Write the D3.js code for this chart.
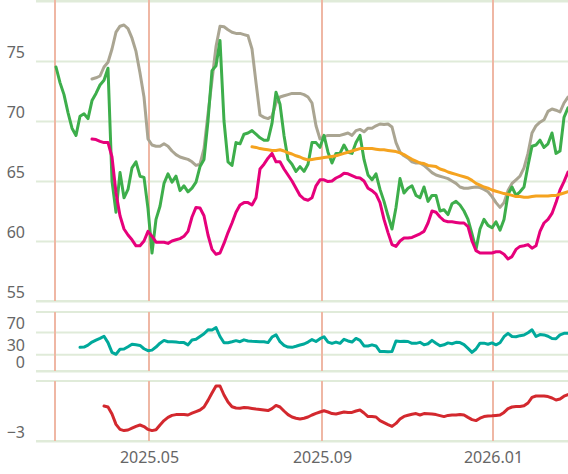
<!DOCTYPE html>
<html><head><meta charset="utf-8">
<script src="https://cdn.jsdelivr.net/npm/d3@7"></script>
<style>html,body{margin:0;padding:0;background:#fff;} svg{display:block;font-family:"Noto Sans",sans-serif;}</style>
</head><body><svg id="c" width="568" height="474"></svg>
<script>
// ---- data (x = trading-day index, one value every 2 days) ----
const priceStart = 0;
const price = [74.5,73.2,72.2,70.7,69.4,68.8,70.4,70.6,70.2,71.7,72.3,73.0,73.4,74.4,65.0,62.4,65.7,63.6,64.3,66.1,
66.6,65.4,65.3,62.7,59.0,61.8,62.9,64.8,65.6,64.9,65.4,64.2,64.6,64.1,64.4,64.9,66.2,66.8,70.0,74.2,
74.6,76.7,70.0,66.6,66.3,68.2,68.1,68.9,69.0,69.2,68.9,68.6,68.4,68.4,69.8,72.4,71.4,68.8,66.8,66.4,
65.8,66.2,65.8,66.4,68.2,68.2,67.8,68.8,67.4,66.5,67.3,67.3,68.0,67.4,67.3,68.2,68.8,66.8,65.5,65.1,
65.6,64.3,63.3,62.1,61.0,62.8,65.2,64.0,64.4,64.6,63.8,63.6,64.5,63.3,63.8,63.8,62.5,62.6,62.2,63.1,
63.3,63.0,62.5,61.8,60.6,59.3,61.0,61.8,61.3,61.1,61.6,60.9,61.8,63.9,64.5,63.8,64.1,64.5,66.3,67.9,
68.0,68.4,67.8,68.1,69.0,67.3,67.5,70.3,71.1];

const upperStart = 18;
const upper = [73.5,73.6,73.75,74.5,74.9,76.0,77.4,77.9,78.0,77.7,
76.9,75.8,74.0,72.0,68.5,68.0,67.9,67.9,68.1,67.9,
67.5,67.2,67.0,66.9,66.8,66.6,66.3,66.4,67.7,70.6,
73.4,76.2,77.9,77.85,77.6,77.4,77.3,77.3,77.2,77.1,
76.0,73.2,70.5,70.3,70.2,70.4,71.5,72.0,72.1,72.2,
72.3,72.3,72.3,72.2,72.0,71.5,69.6,68.5,68.7,68.8,
68.8,68.8,68.8,68.9,69.0,68.8,69.2,69.3,69.1,69.4,
69.4,69.6,69.75,69.7,69.75,69.5,68.2,67.4,67.1,66.9,
66.6,66.5,66.5,66.3,66.0,65.7,65.5,65.4,65.3,65.2,
65.0,64.8,64.5,64.4,64.4,64.45,64.5,64.45,64.3,64.1,
63.7,63.2,62.8,63.2,64.2,64.8,65.1,65.4,66.1,67.3,
69.0,69.6,69.9,70.1,70.8,71.0,70.9,70.75,71.5,72.0];

const lowerStart = 18;
const lower = [68.5,68.45,68.3,68.2,68.2,67.0,64.0,62.1,61.0,60.5,
60.1,59.6,59.6,60.0,60.8,60.4,59.9,59.9,59.9,59.8,
60.0,60.1,60.2,60.4,60.8,62.0,62.8,62.75,62.1,60.5,
59.3,58.9,59.0,59.8,60.7,61.5,62.4,63.0,63.2,63.2,
63.0,63.6,66.0,66.4,66.9,67.3,66.6,66.6,66.0,65.5,
65.0,64.4,63.8,63.5,63.4,63.6,64.6,65.1,65.1,64.95,
65.0,65.25,65.4,65.65,65.6,65.45,65.3,65.25,65.0,64.4,
64.2,63.9,63.2,61.8,60.7,59.7,59.55,60.0,60.25,60.25,
60.3,60.45,60.6,60.8,61.5,62.5,62.4,62.0,61.7,61.6,
61.6,61.55,61.5,61.5,61.2,60.0,59.2,59.0,59.0,59.0,
59.0,59.1,59.1,58.9,58.5,58.7,59.3,59.55,59.6,59.7,
59.4,59.6,60.8,61.5,61.8,62.3,63.2,64.25,64.95,65.75];

const maStart = 98;
const ma = [67.85,67.8,67.7,67.65,67.6,67.55,67.55,67.6,67.5,67.35,
67.25,67.1,67.0,66.85,66.75,66.8,66.85,66.9,66.95,67.0,
67.05,67.1,67.2,67.3,67.4,67.5,67.6,67.7,67.7,67.7,
67.7,67.65,67.6,67.6,67.55,67.5,67.45,67.35,67.2,67.0,
66.8,66.65,66.5,66.45,66.3,66.25,66.2,66.0,65.9,65.75,
65.65,65.55,65.45,65.35,65.25,65.05,64.8,64.65,64.5,64.4,
64.25,64.15,64.05,63.95,63.9,63.8,63.7,63.7,63.65,63.65,
63.7,63.75,63.75,63.75,63.75,63.8,63.8,63.9,64.0,64.1];

const oscStart = 12;
const osc = [42.5,43.0,46.5,52,55.5,58.7,62.5,51,33.5,30,
39,39.5,43.5,48,47,46,40,36.5,37.5,43,
50,55,52.6,52.6,52,51,51,47,55.7,57,
62,67,74,73.8,78,62,50.8,50.8,52.5,54.5,
52.6,56,54,53.3,53,52.6,52.6,51,61,65,
52.6,46,43,42.5,44.5,46.7,48.5,52,56.5,53,
58,61.5,52,49.5,52,49.7,57,54,52,58.5,
55,45,45,47,45,35,35,34.6,35,54,
53,53.5,53,49.7,49.7,51.5,47,49,55,50,
45.5,47,50.5,49,51.5,51,47.5,40.7,33.5,39.5,
50,50,48,50.5,47,50.8,61.6,67.7,62,61.5,
63.5,64.6,68.8,74,62,65.5,64.8,62.5,58.5,58,
65,67.7,67.7];

const macdStart = 24;
const macd = [-1.25,-1.3,-1.65,-2.17,-2.42,-2.48,-2.45,-2.36,-2.27,-2.2,
-2.28,-2.42,-2.48,-2.44,-2.2,-1.98,-1.82,-1.72,-1.68,-1.67,
-1.67,-1.7,-1.61,-1.53,-1.45,-1.3,-0.97,-0.6,-0.25,-0.25,
-0.7,-1.05,-1.29,-1.35,-1.36,-1.33,-1.34,-1.37,-1.4,-1.42,
-1.45,-1.48,-1.38,-1.22,-1.3,-1.5,-1.68,-1.8,-1.86,-1.9,
-1.86,-1.8,-1.7,-1.62,-1.55,-1.49,-1.55,-1.63,-1.65,-1.6,
-1.55,-1.58,-1.57,-1.5,-1.45,-1.6,-1.78,-1.78,-1.8,-1.98,
-2.08,-2.18,-2.27,-2.12,-1.9,-1.77,-1.71,-1.66,-1.63,-1.7,
-1.63,-1.64,-1.65,-1.68,-1.73,-1.78,-1.72,-1.7,-1.7,-1.67,
-1.7,-1.82,-1.93,-1.98,-1.86,-1.78,-1.75,-1.74,-1.72,-1.7,
-1.57,-1.38,-1.3,-1.28,-1.27,-1.24,-1.1,-0.82,-0.75,-0.75,
-0.75,-0.78,-0.85,-0.95,-0.9,-0.76,-0.68];

const splitDays = [-0.5, 46.5, 133, 218.5];
const tickDays = [46.5, 133, 218.5];
const tickLabels = ["2025.05", "2025.09", "2026.01"];
const mainTicks = [55, 60, 65, 70, 75, 80];
const oscTicks = [0, 30, 70];
const macdTicks = [-3];

// ---- drawing ----
const W = 568, gridLeft = 36;
const svg = d3.select("#c");
const x = d3.scaleLinear().domain([0, 256]).range([56, 568]);
const yMain = d3.scaleLinear().domain([55, 80]).range([301, 1]);
const yOsc = d3.scaleLinear().domain([0, 106]).range([371, 312]);
const yMacd = d3.scaleLinear().domain([-3, 0]).range([441, 381]);

const gridColor = "#e0ebd9", splitColor = "#efb7a4", textColor = "#666";

function yAxis(scale, ticks, fmt) {
  const g = svg.append("g").attr("transform", `translate(${gridLeft},0)`)
    .call(d3.axisLeft(scale).tickValues(ticks).tickSize(-(W - gridLeft)).tickPadding(11).tickFormat(fmt));
  g.select(".domain").remove();
  g.selectAll(".tick line").attr("stroke", gridColor).attr("stroke-width", 2);
  g.selectAll(".tick text").attr("fill", textColor).attr("font-size", 16)
    .attr("font-family", '"Noto Sans",sans-serif').attr("dy", 0).attr("y", -4);
  // panel frame lines at extents
  scale.range().forEach(py => {
    svg.append("line").attr("x1", gridLeft).attr("x2", W).attr("y1", py).attr("y2", py)
      .attr("stroke", gridColor).attr("stroke-width", 2);
  });
}
yAxis(yMain, mainTicks, d => d === 80 ? "" : d);
yAxis(yOsc, oscTicks, d => d);
yAxis(yMacd, macdTicks, d => "\u22123");

// vertical split lines per panel
[[0, 301], [312, 371], [381, 441]].forEach(([t, b]) => {
  svg.append("g").selectAll("line").data(splitDays).join("line")
    .attr("x1", d => x(d)).attr("x2", d => x(d)).attr("y1", t).attr("y2", b)
    .attr("stroke", splitColor).attr("stroke-width", 2);
});

// x axis labels
const xa = svg.append("g").attr("transform", "translate(0,441)")
  .call(d3.axisBottom(x).tickValues(tickDays).tickSize(0).tickPadding(11)
    .tickFormat((d, i) => tickLabels[i]));
xa.select(".domain").remove();
xa.selectAll("text").attr("fill", textColor).attr("font-size", 16)
  .attr("font-family", '"Noto Sans",sans-serif');

function pts(start, vals) { return vals.map((v, i) => ({ d: start + 2 * i, v })); }
function draw(scale, start, vals, color, w) {
  const line = d3.line().x(p => x(p.d)).y(p => scale(p.v));
  svg.append("path").attr("d", line(pts(start, vals))).attr("fill", "none")
    .attr("stroke", color).attr("stroke-width", w).attr("stroke-linejoin", "round").attr("stroke-linecap", "round");
}
draw(yMain, upperStart, upper, "#aaa592", 3);
draw(yMain, priceStart, price, "#3dae4b", 3);
draw(yMain, lowerStart, lower, "#e6007b", 3);
draw(yMain, maStart, ma, "#f5a31f", 3);
draw(yOsc, oscStart, osc, "#00a99b", 3);
draw(yMacd, macdStart, macd, "#d3282e", 3);
</script></body></html>
